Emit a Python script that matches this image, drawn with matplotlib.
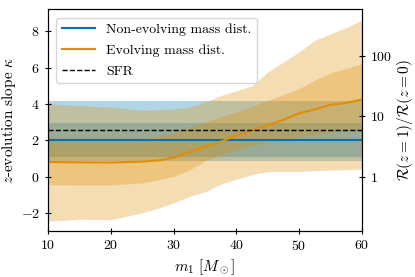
import numpy as np
import matplotlib.pyplot as plt

plt.rcParams['font.family'] = 'serif'
plt.rcParams['font.serif'] = ['cmr10']
plt.rcParams['mathtext.fontset'] = 'cm'
plt.rcParams['axes.formatter.use_mathtext'] = True
plt.rcParams['font.size'] = 10

blue = '#0173b2'
orange = '#de8f05'

# Non-evolving mass distribution (flat in m1)
m1_flat = [10, 60]
k_flat_med = [2.0, 2.0]
k_flat_lo50 = [1.1, 1.1]
k_flat_hi50 = [2.92, 2.92]
k_flat_lo90 = [0.86, 0.86]
k_flat_hi90 = [4.15, 4.15]

# Evolving mass distribution
m1 = [10, 15, 20, 25, 28, 30, 32.5, 35, 37.5, 40, 42.5, 45, 47.5, 50, 52.5, 55, 57.5, 60]
k_med = [0.8, 0.78, 0.77, 0.82, 0.9, 1.05, 1.35, 1.62, 1.92, 2.25, 2.55, 2.82, 3.12, 3.48, 3.7, 3.95, 4.05, 4.24]
k_lo50 = [-0.45, -0.47, -0.47, -0.35, -0.15, 0.0, 0.35, 0.85, 1.2, 1.45, 1.7, 1.9, 2.05, 2.2, 2.3, 2.4, 2.5, 2.55]
k_hi50 = [2.1, 2.08, 2.05, 2.1, 2.25, 2.4, 2.7, 3.0, 3.3, 3.55, 3.85, 4.2, 4.5, 4.84, 5.3, 5.7, 5.95, 6.2]
k_lo90 = [-2.46, -2.35, -2.38, -2.0, -1.7, -1.45, -1.1, -0.85, -0.42, -0.15, 0.1, 0.27, 0.27, 0.27, 0.32, 0.36, 0.38, 0.4]
k_hi90 = [4.0, 3.9, 3.82, 3.65, 3.68, 3.72, 3.82, 4.1, 4.45, 4.72, 5.0, 5.75, 6.3, 6.85, 7.5, 7.85, 8.2, 8.6]

k_sfr = 2.55

fig = plt.figure(figsize=(4.15, 2.77), dpi=100)
ax = fig.add_axes([0.1157, 0.166, 0.756, 0.8])

ax.fill_between(m1_flat, k_flat_lo90, k_flat_hi90, color=blue, alpha=0.3, lw=0)
ax.fill_between(m1_flat, k_flat_lo50, k_flat_hi50, color=blue, alpha=0.3, lw=0)
ax.fill_between(m1, k_lo90, k_hi90, color=orange, alpha=0.3, lw=0)
ax.fill_between(m1, k_lo50, k_hi50, color=orange, alpha=0.3, lw=0)

ax.plot(m1_flat, k_flat_med, color=blue, lw=1.5, label='Non-evolving mass dist.')
ax.plot(m1, k_med, color=orange, lw=1.5, label='Evolving mass dist.')
ax.axhline(k_sfr, color='k', ls='--', lw=1, label='SFR')

ax.set_xlim(10, 60)
ax.set_ylim(-3, 9.2)
ax.set_xticks([10, 20, 30, 40, 50, 60])
ax.set_yticks([-2, 0, 2, 4, 6, 8])
ax.tick_params(direction='inout', length=5, width=0.8, labelsize=10)
ax.set_xlabel(r'$m_1\ [M_\odot]$', fontsize=11)
ax.set_ylabel(r'$z$-evolution slope $\kappa$', fontsize=11)
ax.xaxis.set_label_coords(0.5, -0.12)
ax.yaxis.set_label_coords(-0.095, 0.5)
ax.legend(loc='upper left', fontsize=10, labelspacing=0.58, handlelength=2.4,
          borderaxespad=0.6)

ax2 = ax.twinx()
ax2.set_yscale('log')
ax2.set_ylim(2 ** -3, 2 ** 9.2)
ax2.set_yticks([1, 10, 100])
ax2.set_yticklabels([r'$1$', r'$10$', r'$100$'])
ax2.minorticks_off()
ax2.tick_params(direction='inout', length=5, width=0.8, labelsize=10)
ax2.set_ylabel(r'$\mathcal{R}(z=1)/\mathcal{R}(z=0)$', fontsize=11)
ax2.yaxis.set_label_coords(1.105, 0.5)

fig.savefig('out.png', dpi=100)
